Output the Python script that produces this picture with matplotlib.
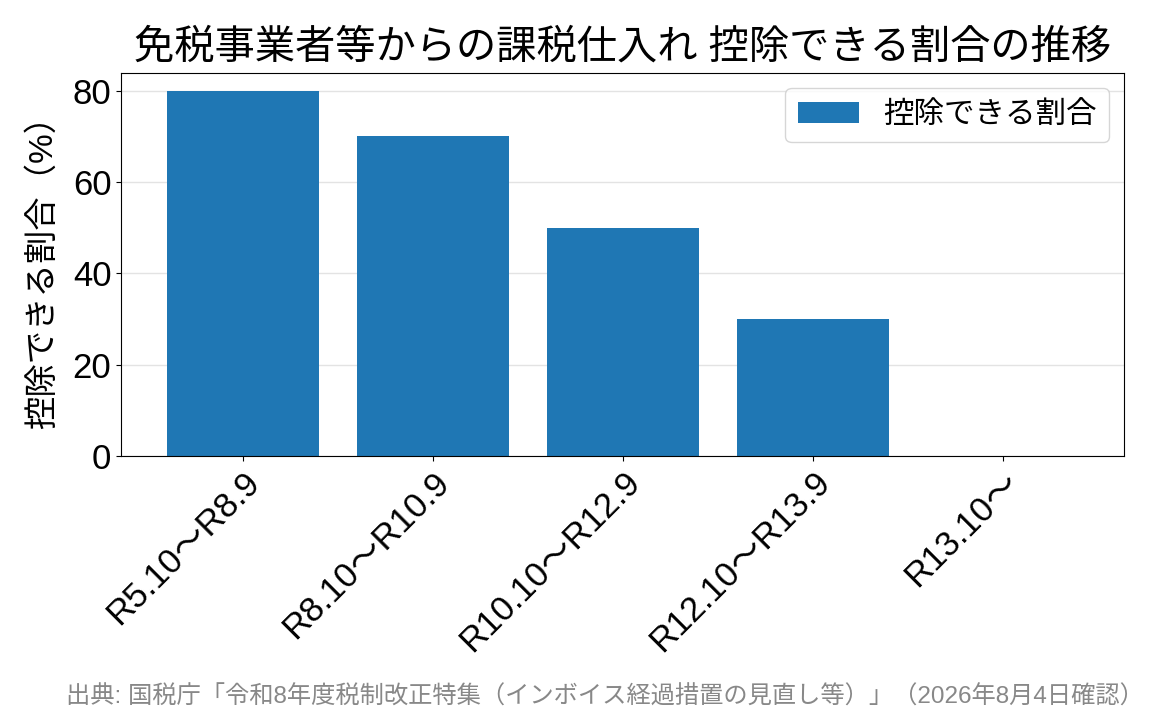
import matplotlib
matplotlib.use("Agg")
import matplotlib.pyplot as plt

# Latin glyphs from Liberation Sans, Japanese from Noto Sans CJK JP
plt.rcParams['font.family'] = ['Liberation Sans', 'Noto Sans CJK JP', 'DejaVu Sans']

periods = ["R5.10～R8.9", "R8.10～R10.9", "R10.10～R12.9", "R12.10～R13.9", "R13.10～"]
ratios = [80, 70, 50, 30, 0]

fig, ax = plt.subplots(figsize=(11.65, 7.25), dpi=100)
ax.bar(periods, ratios, width=0.8, color="#1f77b4", label="控除できる割合", zorder=2)

ax.set_title("免税事業者等からの課税仕入れ 控除できる割合の推移", fontsize=29, pad=10)
ax.set_ylabel("控除できる割合（%）", fontsize=24, labelpad=10)
ax.tick_params(axis='y', labelsize=25)
ax.tick_params(axis='x', labelsize=25)
plt.setp(ax.get_xticklabels(), rotation=45, ha='right', rotation_mode='anchor')
ax.grid(axis='y', color='#e3e3e3', linewidth=1, zorder=0)
ax.set_axisbelow(True)
ax.legend(loc='upper right', fontsize=22)

fig.subplots_adjust(left=0.104, right=0.965, top=0.9, bottom=0.371)
fig.text(0.982, 0.038, "出典: 国税庁「令和8年度税制改正特集（インボイス経過措置の見直し等）」（2026年8月4日確認）",
         ha='right', va='center', fontsize=17.5, color='#888888')

fig.savefig("out.png", dpi=100)
